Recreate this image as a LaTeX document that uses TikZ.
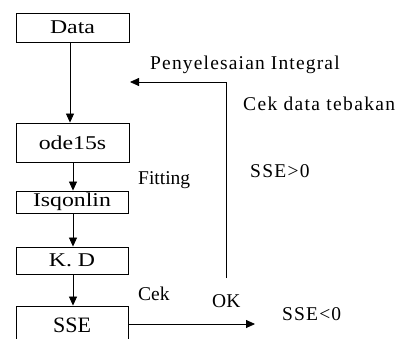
\documentclass[tikz,border=0pt]{standalone}
\usepackage{fontspec}
\setmainfont{Liberation Serif}
\newfontfamily\wideserif[FakeStretch=1.22]{Liberation Serif}
\usetikzlibrary{arrows.meta}
\begin{document}
\begin{tikzpicture}[x=1pt,y=-1pt,
  box/.style={draw,line width=0.9pt,inner sep=0pt,font=\wideserif\fontsize{19.5}{19.5}\selectfont},
  lbl/.style={inner sep=0pt,anchor=west,font=\fontsize{19.5}{19.5}\selectfont},
  arr/.style={line width=0.8pt,-{Triangle[width=8pt,length=9pt]}},
  ln/.style={line width=0.8pt}]
\useasboundingbox (0,0) rectangle (398,338);
\node[box,minimum width=113pt,minimum height=29pt] (data) at (72.5,27.5) {Data};
\node[box,minimum width=113pt,minimum height=39pt] (ode) at (72.5,142.5) {ode15s};
\node[box,minimum width=112pt,minimum height=22pt] (isq) at (72,202) {Isqonlin};
\node[box,minimum width=112pt,minimum height=27pt] (kd) at (72,260.5) {K. D};
\node[box,minimum width=112pt,minimum height=39pt,font=\fontsize{22}{22}\selectfont] (sse) at (72,325.5) {SSE};
\draw[arr] (data.south -| 70,0) -- (ode.north -| 70,0);
\draw[arr] (ode.south -| 73,0) -- (isq.north -| 73,0);
\draw[arr] (isq.south -| 73,0) -- (kd.north -| 73,0);
\draw[arr] (kd.south -| 73,0) -- (sse.north -| 73,0);
\coordinate (ssend) at (255,324);
\draw[arr] (sse.east |- ssend) -- (ssend);
\coordinate (lb) at (226,278);
\coordinate (lc) at (226,82);
\coordinate (lt) at (130,82);
\draw[arr] (lb) -- (lc) -- (lt);
\node[lbl] (pen) at (150,65) {\addfontfeatures{LetterSpace=6}Penyelesaian Integral};
\node[lbl] (cek1) at (243,104) {\addfontfeatures{LetterSpace=7}Cek data tebakan};
\node[lbl] (sgt) at (250,171) {\addfontfeatures{LetterSpace=6.5}SSE>0};
\node[lbl] (fit) at (138,180) {Fitting};
\node[lbl] (cek2) at (138,294) {Cek};
\node[lbl] (ok) at (212,301) {OK};
\node[lbl] (slt) at (282,314) {\addfontfeatures{LetterSpace=6}SSE<0};
\end{tikzpicture}
\end{document}
